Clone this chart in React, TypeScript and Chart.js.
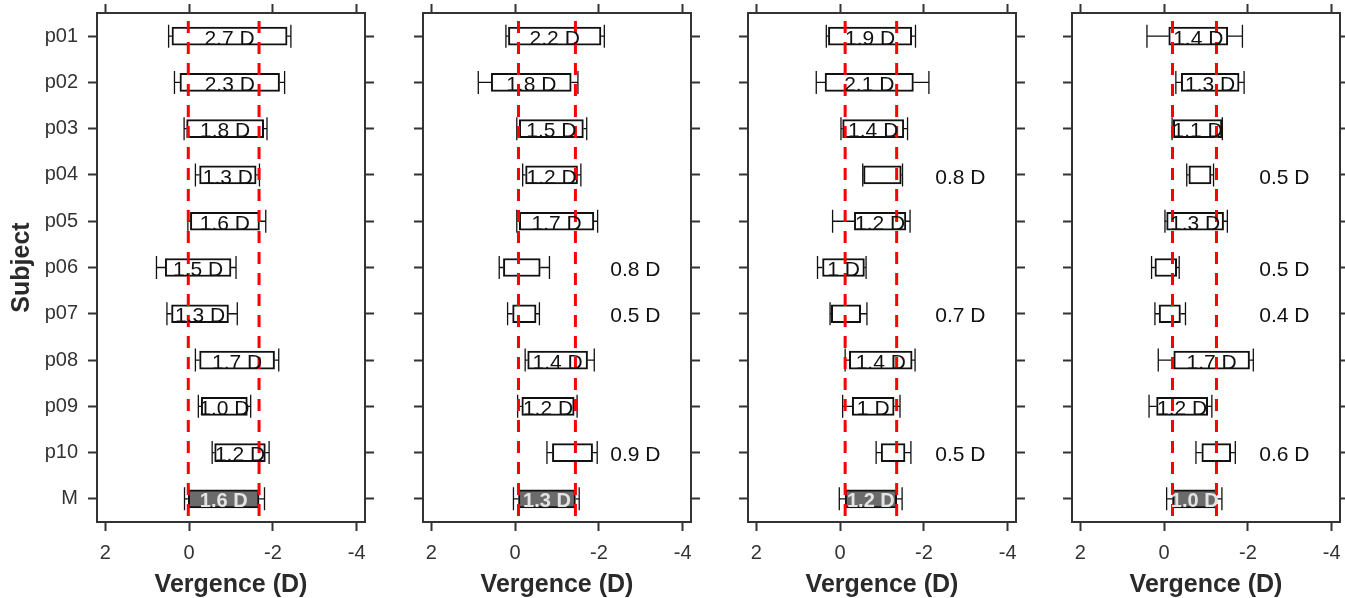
import React, { useEffect, useRef } from 'react';
import { Chart, registerables } from 'chart.js';

Chart.register(...registerables);
Chart.defaults.font.family = "'Liberation Sans', Arial, Helvetica, sans-serif";

// ---------- data ----------
const subjects = ['p01', 'p02', 'p03', 'p04', 'p05', 'p06', 'p07', 'p08', 'p09', 'p10', 'M'];
const xTickValues = [2, 0, -2, -4];
const xMin = -4.2;
const xMax = 2.2;
const outsideLabelValue = -2.87;

// Panel A
const aWhiskerLeft = [0.49, 0.35, 0.12, -0.15, 0.03, 0.78, 0.53, -0.15, -0.22, -0.55, 0.11];
const aBoxLeft = [0.41, 0.22, 0.06, -0.25, -0.03, 0.57, 0.42, -0.25, -0.29, -0.61, 0.02];
const aBoxRight = [-2.34, -2.16, -1.78, -1.6, -1.68, -1.0, -0.94, -2.04, -1.39, -1.82, -1.67];
const aWhiskerRight = [-2.43, -2.28, -1.86, -1.68, -1.83, -1.12, -1.15, -2.14, -1.47, -1.91, -1.8];
const aLabels = ['2.7 D', '2.3 D', '1.8 D', '1.3 D', '1.6 D', '1.5 D', '1.3 D', '1.7 D', '1.0 D', '1.2 D', '1.6 D'];
const aOutside = [false, false, false, false, false, false, false, false, false, false, false];
const aRefLines = [0.02, -1.67];

// Panel B
const bWhiskerLeft = [0.22, 0.88, -0.04, -0.18, -0.04, 0.38, 0.18, -0.24, -0.06, -0.76, 0.04];
const bBoxLeft = [0.16, 0.57, -0.1, -0.25, -0.1, 0.28, 0.06, -0.3, -0.16, -0.89, -0.08];
const bBoxRight = [-2.05, -1.34, -1.63, -1.49, -1.88, -0.6, -0.5, -1.73, -1.41, -1.85, -1.44];
const bWhiskerRight = [-2.13, -1.5, -1.71, -1.57, -1.97, -0.82, -0.58, -1.89, -1.48, -1.96, -1.53];
const bLabels = ['2.2 D', '1.8 D', '1.5 D', '1.2 D', '1.7 D', '0.8 D', '0.5 D', '1.4 D', '1.2 D', '0.9 D', '1.3 D'];
const bOutside = [false, false, false, false, false, true, true, false, false, true, false];
const bRefLines = [-0.08, -1.44];

// Panel C
const cWhiskerLeft = [0.33, 0.57, -0.02, -0.54, 0.18, 0.54, 0.24, -0.12, -0.06, -0.86, 0.02];
const cBoxLeft = [0.28, 0.36, -0.06, -0.56, -0.34, 0.42, 0.21, -0.22, -0.29, -0.98, -0.12];
const cBoxRight = [-1.71, -1.75, -1.52, -1.46, -1.57, -0.58, -0.49, -1.72, -1.29, -1.55, -1.35];
const cWhiskerRight = [-1.8, -2.12, -1.61, -1.49, -1.67, -0.62, -0.64, -1.79, -1.43, -1.69, -1.48];
const cLabels = ['1.9 D', '2.1 D', '1.4 D', '0.8 D', '1.2 D', '1 D', '0.7 D', '1.4 D', '1 D', '0.5 D', '1.2 D'];
const cOutside = [false, false, false, true, false, false, true, false, false, true, false];
const cRefLines = [-0.12, -1.35];

// Panel D
const dWhiskerLeft = [0.41, -0.28, -0.19, -0.54, -0.02, 0.3, 0.22, 0.14, 0.36, -0.76, -0.06];
const dBoxLeft = [-0.11, -0.41, -0.22, -0.59, -0.06, 0.22, 0.12, -0.23, 0.18, -0.9, -0.2];
const dBoxRight = [-1.52, -1.79, -1.38, -1.12, -1.42, -0.3, -0.39, -2.04, -1.04, -1.59, -1.26];
const dWhiskerRight = [-1.87, -1.91, -1.39, -1.18, -1.51, -0.36, -0.51, -2.13, -1.14, -1.7, -1.38];
const dLabels = ['1.4 D', '1.3 D', '1.1 D', '0.5 D', '1.3 D', '0.5 D', '0.4 D', '1.7 D', '1.2 D', '0.6 D', '1.0 D'];
const dOutside = [false, false, false, true, false, true, true, false, false, true, false];
const dRefLines = [-0.2, -1.25];

// ---------- layout / style ----------
const PLOT_W = 268;
const CANVAS_H = 598;
const TOP_H = 13;
const BOTTOM_H = 76;
const AXIS = '#333333';
const MEAN_FILL = '#6b6b6b';

type PanelData = {
  wl: number[]; bl: number[]; br: number[]; wr: number[];
  labels: string[]; outside: boolean[]; refs: number[];
};

const panels: { left: number; leftW: number; rightW: number; showY: boolean; d: PanelData }[] = [
  { left: 0, leftW: 97, rightW: 15, showY: true, d: { wl: aWhiskerLeft, bl: aBoxLeft, br: aBoxRight, wr: aWhiskerRight, labels: aLabels, outside: aOutside, refs: aRefLines } },
  { left: 408, leftW: 15, rightW: 15, showY: false, d: { wl: bWhiskerLeft, bl: bBoxLeft, br: bBoxRight, wr: bWhiskerRight, labels: bLabels, outside: bOutside, refs: bRefLines } },
  { left: 733, leftW: 15, rightW: 15, showY: false, d: { wl: cWhiskerLeft, bl: cBoxLeft, br: cBoxRight, wr: cWhiskerRight, labels: cLabels, outside: cOutside, refs: cRefLines } },
  { left: 1057, leftW: 15, rightW: 5, showY: false, d: { wl: dWhiskerLeft, bl: dBoxLeft, br: dBoxRight, wr: dWhiskerRight, labels: dLabels, outside: dOutside, refs: dRefLines } },
];

function Panel({ left, leftW, rightW, showY, d }: { left: number; leftW: number; rightW: number; showY: boolean; d: PanelData }) {
  const ref = useRef<HTMLCanvasElement | null>(null);
  const width = leftW + PLOT_W + rightW;

  useEffect(() => {
    if (!ref.current) return;
    const extras = {
      id: 'boxExtras',
      afterDatasetsDraw(chart: any) {
        const { ctx, chartArea } = chart;
        const xs = chart.scales.x;
        const ys = chart.scales.y;
        ctx.save();
        // whiskers
        ctx.strokeStyle = '#111';
        ctx.lineWidth = 1.3;
        const capH = 11.5;
        subjects.forEach((_, i) => {
          const yc = ys.getPixelForValue(i);
          const xwl = xs.getPixelForValue(d.wl[i]);
          const xbl = xs.getPixelForValue(d.bl[i]);
          const xbr = xs.getPixelForValue(d.br[i]);
          const xwr = xs.getPixelForValue(d.wr[i]);
          ctx.beginPath();
          ctx.moveTo(xwl, yc); ctx.lineTo(xbl, yc);
          ctx.moveTo(xbr, yc); ctx.lineTo(xwr, yc);
          ctx.moveTo(xwl, yc - capH); ctx.lineTo(xwl, yc + capH);
          ctx.moveTo(xwr, yc - capH); ctx.lineTo(xwr, yc + capH);
          ctx.stroke();
        });
        // reference lines
        ctx.strokeStyle = '#ff0000';
        ctx.lineWidth = 3;
        ctx.setLineDash([12, 9]);
        d.refs.forEach((v) => {
          const px = xs.getPixelForValue(v);
          ctx.beginPath();
          ctx.moveTo(px, chartArea.top + 8);
          ctx.lineTo(px, chartArea.bottom);
          ctx.stroke();
        });
        ctx.setLineDash([]);
        // labels
        ctx.textAlign = 'center';
        ctx.textBaseline = 'alphabetic';
        subjects.forEach((s, i) => {
          const yc = ys.getPixelForValue(i);
          const isMean = s === 'M';
          const size = isMean ? 20 : 21;
          ctx.font = `${isMean ? 'bold ' : ''}${size}px 'Liberation Sans', Arial, sans-serif`;
          ctx.fillStyle = isMean ? '#e4e4e4' : '#111';
          const xc = d.outside[i]
            ? xs.getPixelForValue(outsideLabelValue)
            : (xs.getPixelForValue(d.bl[i]) + xs.getPixelForValue(d.br[i])) / 2;
          ctx.fillText(d.labels[i], xc, yc + size * 0.36 + 1);
        });
        ctx.restore();
      },
    };

    const grid = {
      display: true,
      drawOnChartArea: false,
      drawTicks: true,
      tickLength: 9,
      tickColor: AXIS,
      tickWidth: 2,
      color: AXIS,
    };
    const border = { display: true, color: AXIS, width: 2 };
    const setTicks = (s: any) => { s.ticks = xTickValues.map((v) => ({ value: v })); };
    const noPadV = (s: any) => { s.paddingTop = 0; s.paddingBottom = 0; };

    const chart = new Chart(ref.current, {
      type: 'bar',
      data: {
        labels: subjects,
        datasets: [
          {
            data: subjects.map((_, i) => [d.bl[i], d.br[i]]) as any,
            backgroundColor: subjects.map((s) => (s === 'M' ? MEAN_FILL : '#ffffff')),
            borderColor: '#111',
            borderWidth: 2,
            borderSkipped: false,
            barThickness: 18,
            xAxisID: 'x',
            yAxisID: 'y',
          } as any,
        ],
      },
      options: {
        indexAxis: 'y',
        responsive: false,
        animation: false,
        layout: { padding: 0 },
        plugins: { legend: { display: false }, tooltip: { enabled: false }, title: { display: false } },
        scales: {
          x: {
            type: 'linear', position: 'bottom', min: xMin, max: xMax, reverse: true,
            afterBuildTicks: setTicks,
            afterFit: (s: any) => { s.height = BOTTOM_H; s.paddingLeft = 0; s.paddingRight = 0; },
            ticks: { callback: (v: any) => String(v), font: { size: 20 }, color: AXIS, padding: 10, maxRotation: 0, autoSkip: false },
            grid, border,
            title: { display: true, text: 'Vergence (D)', color: '#2a2a2a', font: { size: 25, weight: 'bold', lineHeight: 1 }, padding: { top: 0, bottom: 0 } },
          },
          x2: {
            type: 'linear', position: 'top', min: xMin, max: xMax, reverse: true,
            afterBuildTicks: setTicks,
            afterFit: (s: any) => { s.height = TOP_H; s.paddingLeft = 0; s.paddingRight = 0; },
            ticks: { display: false },
            grid, border,
          },
          y: {
            type: 'category', position: 'left', offset: true,
            afterFit: (s: any) => { s.width = leftW; noPadV(s); },
            ticks: { display: showY, font: { size: 20 }, color: AXIS, padding: 10 },
            grid: { ...grid, offset: false }, border,
            title: { display: showY, text: 'Subject', color: '#2a2a2a', font: { size: 25, weight: 'bold', lineHeight: 1 }, padding: { top: 9.5, bottom: 0 } },
          },
          y2: {
            type: 'category', position: 'right', offset: true,
            afterFit: (s: any) => { s.width = rightW; noPadV(s); },
            ticks: { display: false },
            grid: { ...grid, offset: false }, border,
          },
        },
      } as any,
      plugins: [extras],
    });
    return () => chart.destroy();
  }, []);

  return (
    <div style={{ position: 'absolute', left, top: 0, width, height: CANVAS_H }}>
      <canvas ref={ref} width={width} height={CANVAS_H} style={{ display: 'block' }} />
    </div>
  );
}

export default function App() {
  return (
    <div style={{ position: 'absolute', left: 0, top: 0, width: 1345, height: 598, overflow: 'hidden', background: '#ffffff' }}>
      {panels.map((p, i) => (
        <Panel key={i} left={p.left} leftW={p.leftW} rightW={p.rightW} showY={p.showY} d={p.d} />
      ))}
    </div>
  );
}
